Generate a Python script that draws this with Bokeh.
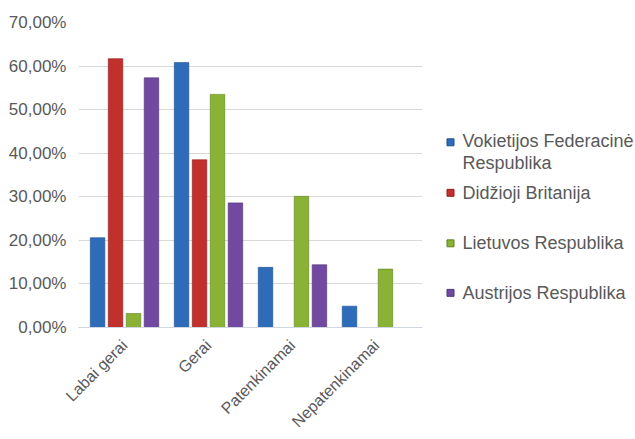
import math
from bokeh.plotting import figure
from bokeh.layouts import row
from bokeh.models import ColumnDataSource, FixedTicker, CustomJSTickFormatter
from bokeh.transform import dodge
from bokeh.core.properties import value
from bokeh.embed import file_html
from bokeh.resources import INLINE

categories = ["Labai gerai", "Gerai", "Patenkinamai", "Nepatenkinamai"]
vokietija = [20.6, 60.8, 13.8, 4.9]
britanija = [61.7, 38.5, 0.0, 0.0]
lietuva = [3.2, 53.5, 30.1, 13.4]
austrija = [57.3, 28.6, 14.4, 0.0]
series_names = ["Vokietijos Federacinė\nRespublika", "Didžioji Britanija",
                "Lietuvos Respublika", "Austrijos Respublika"]
colors = ["#2E6CB9", "#C1302C", "#8AB335", "#7149A0"]
edge_colors = ["#1F4F8F", "#8F1F1D", "#5F8020", "#4F3275"]
y_ticks = [0, 10, 20, 30, 40, 50, 60, 70]

FONT = "Liberation Sans"
TXT = "#595959"

n = len(categories)
slot = [i + 0.5 for i in range(n)]  # centre of each category slot
src = ColumnDataSource(dict(cat=categories, pos=slot, v=vokietija, b=britanija,
                            l=lietuva, a=austrija))

W_MAIN = 434
PAD = 0.048
p = figure(x_range=(-PAD, n + PAD), y_range=(0, 70), width=W_MAIN, height=439,
           output_backend="svg", toolbar_location=None,
           min_border_left=78, min_border_right=12, min_border_top=22, min_border_bottom=109)
p.outline_line_color = None
p.background_fill_color = "white"
p.border_fill_color = "white"

offsets = [-0.321, -0.107, 0.107, 0.321]
for key, off, col, ec in zip(["v", "b", "l", "a"], offsets, colors, edge_colors):
    p.vbar(x=dodge("pos", off), top=key, width=0.173, bottom=0,
           source=src, fill_color=col, line_color=ec, line_width=0.6)

p.xgrid.grid_line_color = None
p.ygrid.grid_line_color = "#D9D9D9"
p.ygrid.grid_line_width = 1

p.yaxis.ticker = FixedTicker(ticks=y_ticks)
p.yaxis.formatter = CustomJSTickFormatter(code="return tick.toFixed(2).replace('.', ',') + '%';")
p.yaxis.axis_line_color = None
p.yaxis.major_tick_line_color = None
p.yaxis.minor_tick_line_color = None
p.yaxis.major_label_standoff = 6
p.yaxis.major_label_text_font = FONT
p.yaxis.major_label_text_font_size = "17px"
p.yaxis.major_label_text_color = TXT

# category labels at the slot centres (no tick marks drawn)
p.xaxis.ticker = FixedTicker(ticks=slot)
p.xaxis.formatter = CustomJSTickFormatter(args=dict(names=categories),
                                          code="return names[Math.floor(tick)];")
p.xaxis.axis_line_color = "#D0D7E2"
p.xaxis.major_tick_line_color = None
p.xaxis.minor_tick_line_color = None
p.xaxis.major_label_orientation = math.pi / 4
p.xaxis.major_label_standoff = 9
p.xaxis.major_label_text_font = FONT
p.xaxis.major_label_text_font_size = "16px"
p.xaxis.major_label_text_color = TXT

# legend panel (frame aligned with the plot frame: y in pixel rows of the page)
lg = figure(width=200, height=439, x_range=(0, 200), y_range=(330, 22),
            output_backend="svg", toolbar_location=None,
            min_border_left=0, min_border_right=0, min_border_top=22, min_border_bottom=109)
lg.outline_line_color = None
lg.xaxis.visible = False
lg.yaxis.visible = False
lg.grid.visible = False

marker_y = [143, 194, 245, 295]
text_y = [153, 194, 245, 295]
lg.rect(x=[16] * 4, y=marker_y, width=7, height=7, fill_color=colors, line_color=edge_colors)
lg.text(x=[28] * 4, y=text_y, text=series_names, text_font=value(FONT),
        text_font_size="18px", text_color=TXT, text_baseline="middle",
        text_line_height=1.11)

layout = row(p, lg)
open("out.html", "w").write(file_html(layout, INLINE))
